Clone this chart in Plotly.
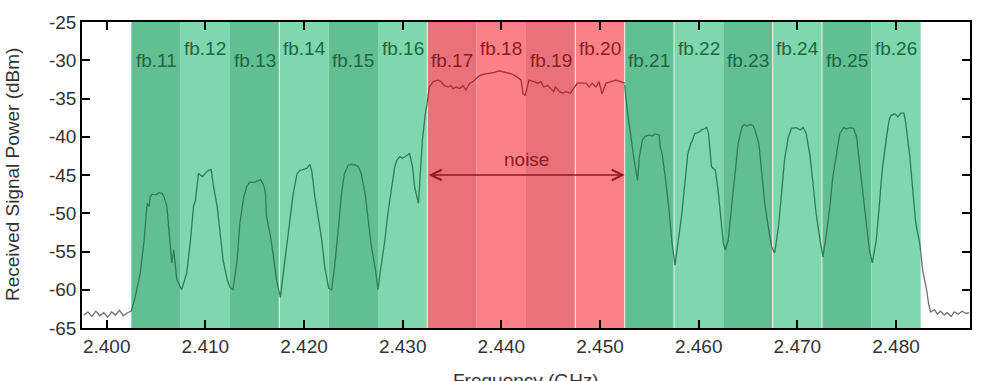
import plotly.graph_objects as go

# ---------------- data ----------------
# Frequency channels (fb.11 .. fb.26), 5 MHz wide bands
band_labels = ["fb.%d" % c for c in range(11, 27)]
band_centers = [2.405, 2.410, 2.415, 2.420, 2.425, 2.430, 2.435, 2.440,
                2.445, 2.450, 2.455, 2.460, 2.465, 2.470, 2.475, 2.480]
band_kind = ["g", "g", "g", "g", "g", "g", "r", "r", "r", "r",
             "g", "g", "g", "g", "g", "g"]
band_half = 0.0025

# spectrum trace, left noise floor (outside channels)
left_f = [2.3977, 2.3981, 2.3985, 2.3989, 2.3993, 2.3997, 2.4001, 2.4005,
          2.4009, 2.4013, 2.4017, 2.4021, 2.4025]
left_p = [-63.3, -62.9, -63.5, -62.8, -63.4, -63.0, -63.6, -62.9,
          -63.3, -62.7, -63.4, -63.0, -62.8]

# channels fb.11 - fb.16
g1_f = [2.4025, 2.4029, 2.4034, 2.4038, 2.4041, 2.4043, 2.4044, 2.4046, 2.4050,
        2.4053, 2.4056, 2.4058, 2.4061, 2.4063, 2.4065, 2.4066, 2.4068, 2.4071,
        2.4076, 2.4081, 2.4085, 2.4088, 2.4090, 2.4092, 2.4093, 2.4097, 2.4100,
        2.4103, 2.4106, 2.4108, 2.4112, 2.4115, 2.4118, 2.4122, 2.4125, 2.4128,
        2.4132, 2.4135, 2.4139, 2.4142, 2.4145, 2.4149, 2.4152, 2.4156, 2.4159,
        2.4161, 2.4162, 2.4166, 2.4169, 2.4172, 2.4176, 2.4179, 2.4182, 2.4186,
        2.4189, 2.4193, 2.4196, 2.4199, 2.4203, 2.4206, 2.4208, 2.4211, 2.4214,
        2.4218, 2.4221, 2.4225, 2.4228, 2.4231, 2.4235, 2.4238, 2.4241, 2.4245,
        2.4248, 2.4252, 2.4255, 2.4258, 2.4262, 2.4265, 2.4268, 2.4272, 2.4275,
        2.4278, 2.4282, 2.4285, 2.4289, 2.4292, 2.4294, 2.4297, 2.4300, 2.4304,
        2.4307, 2.4310, 2.4312, 2.4316, 2.4318, 2.4320, 2.4323, 2.4325]
g1_p = [-62.8, -60.9, -57.9, -53.5, -48.7, -49.1, -47.9, -47.5, -47.6,
        -47.3, -47.4, -47.8, -49.1, -51.7, -54.7, -56.5, -54.8, -58.6,
        -60.0, -57.9, -53.5, -49.1, -48.3, -45.7, -44.8, -45.2, -44.8,
        -44.4, -44.3, -46.3, -49.1, -52.6, -56.1, -58.6, -59.7, -60.0,
        -56.4, -51.3, -47.8, -46.5, -45.9, -46.0, -45.8, -45.6, -46.3,
        -47.4, -50.4, -53.0, -55.6, -58.6, -61.0, -57.9, -54.4, -51.0,
        -47.5, -44.8, -44.4, -44.3, -44.1, -43.6, -44.6, -47.8, -50.4,
        -53.5, -57.0, -59.8, -60.0, -57.0, -51.7, -47.5, -44.8, -43.7,
        -43.6, -43.7, -43.9, -44.8, -47.5, -51.0, -54.1, -57.0, -60.0,
        -57.0, -53.5, -50.0, -46.5, -43.9, -43.1, -42.6, -42.8, -42.5,
        -42.2, -43.9, -46.5, -48.7, -44.8, -40.4, -37.0, -35.5]

# channels fb.17 - fb.20 (noise)
r_f = [2.4325, 2.4327, 2.4331, 2.4336, 2.4339, 2.4342, 2.4346, 2.4349, 2.4351,
       2.4354, 2.4358, 2.4361, 2.4364, 2.4368, 2.4371, 2.4375, 2.4378, 2.4383,
       2.4388, 2.4393, 2.4398, 2.4401, 2.4406, 2.4411, 2.4416, 2.4420, 2.4422,
       2.4424, 2.4426, 2.4428, 2.4433, 2.4437, 2.4440, 2.4443, 2.4447, 2.4450,
       2.4453, 2.4455, 2.4459, 2.4462, 2.4465, 2.4470, 2.4474, 2.4477, 2.4482,
       2.4486, 2.4489, 2.4492, 2.4496, 2.4499, 2.4502, 2.4506, 2.4511, 2.4516,
       2.4521, 2.4525]
r_p = [-35.5, -33.5, -32.8, -32.6, -32.8, -33.3, -33.5, -33.3, -33.7,
       -33.5, -33.7, -33.3, -33.9, -33.0, -32.8, -32.4, -32.0, -31.8,
       -31.7, -31.6, -31.4, -31.5, -31.7, -31.8, -32.2, -32.6, -34.4,
       -34.6, -33.7, -32.6, -32.8, -33.0, -32.8, -33.5, -33.3, -33.7,
       -34.1, -33.5, -34.1, -34.3, -34.1, -34.3, -33.5, -33.0, -33.0,
       -33.0, -33.5, -33.0, -33.5, -32.8, -34.4, -33.0, -32.8, -32.6,
       -32.8, -33.0]

# channels fb.21 - fb.26
g2_f = [2.4525, 2.4528, 2.4531, 2.4534, 2.4538, 2.4540, 2.4543, 2.4546, 2.4550,
        2.4553, 2.4556, 2.4560, 2.4561, 2.4563, 2.4566, 2.4570, 2.4573, 2.4576,
        2.4579, 2.4583, 2.4586, 2.4589, 2.4592, 2.4593, 2.4596, 2.4600, 2.4603,
        2.4607, 2.4608, 2.4610, 2.4613, 2.4617, 2.4620, 2.4623, 2.4625, 2.4627,
        2.4630, 2.4633, 2.4637, 2.4640, 2.4644, 2.4646, 2.4649, 2.4652, 2.4655,
        2.4657, 2.4661, 2.4664, 2.4667, 2.4671, 2.4674, 2.4677, 2.4681, 2.4684,
        2.4687, 2.4691, 2.4694, 2.4699, 2.4703, 2.4706, 2.4709, 2.4713, 2.4716,
        2.4719, 2.4723, 2.4726, 2.4729, 2.4733, 2.4736, 2.4740, 2.4743, 2.4747,
        2.4750, 2.4753, 2.4757, 2.4760, 2.4763, 2.4767, 2.4770, 2.4773, 2.4776,
        2.4780, 2.4783, 2.4786, 2.4790, 2.4793, 2.4795, 2.4799, 2.4802, 2.4805,
        2.4808, 2.4810, 2.4814, 2.4817, 2.4820, 2.4824, 2.4825]
g2_p = [-33.2, -37.0, -39.6, -42.6, -45.7, -42.6, -40.4, -39.9, -39.8,
        -39.9, -39.6, -39.8, -41.3, -42.2, -45.2, -49.6, -53.9, -56.8,
        -53.9, -50.0, -46.1, -42.2, -40.9, -40.7, -39.6, -39.4, -39.1,
        -38.9, -38.7, -39.6, -43.9, -44.4, -47.4, -51.7, -53.9, -54.8,
        -53.5, -49.6, -44.8, -40.9, -38.7, -38.4, -38.6, -38.4, -38.5,
        -39.1, -40.9, -44.8, -48.7, -52.2, -54.4, -55.2, -51.7, -47.4,
        -43.0, -40.0, -38.9, -38.8, -39.1, -38.8, -39.6, -42.6, -46.1,
        -50.0, -53.5, -55.7, -53.1, -49.1, -45.2, -42.2, -39.6, -38.8,
        -39.0, -38.8, -38.9, -40.0, -43.5, -47.8, -51.7, -54.8, -56.5,
        -53.5, -49.1, -44.4, -40.4, -37.8, -37.2, -37.0, -37.4, -36.9,
        -36.9, -38.3, -42.6, -47.0, -51.3, -53.9, -55.0]

# right noise floor
right_f = [2.4825, 2.4827, 2.4831, 2.4833, 2.4835, 2.4839, 2.4842, 2.4845,
           2.4849, 2.4852, 2.4856, 2.4859, 2.4863, 2.4867, 2.4871, 2.4874]
right_p = [-55.0, -57.4, -60.0, -61.8, -62.9, -62.6, -63.2, -62.8,
           -63.3, -63.0, -63.5, -62.9, -63.2, -62.8, -63.1, -63.0]

x_ticks = [2.40, 2.41, 2.42, 2.43, 2.44, 2.45, 2.46, 2.47, 2.48]
x_tick_text = ["2.400", "2.410", "2.420", "2.430", "2.440", "2.450", "2.460", "2.470", "2.480"]
y_ticks = [-65, -60, -55, -50, -45, -40, -35, -30, -25]
y_tick_text = ["-65", "-60", "-55", "-50", "-45", "-40", "-35", "-30", "-25"]

noise_from, noise_to, noise_level = 2.4325, 2.4525, -45.0
white_seps = [2.4175, 2.4325, 2.4475, 2.4525, 2.4575, 2.4675, 2.4725]

# ---------------- styling ----------------
FONT = "Liberation Sans, Arial, sans-serif"
G_DARK, G_LIGHT = "#62bf92", "#7fd7ad"
R_DARK, R_LIGHT = "#e9727a", "#fc8187"
G_TXT, R_TXT = "#1b6843", "#8c1b24"

fig = go.Figure()

shapes = []
for i, (c, k) in enumerate(zip(band_centers, band_kind)):
    if k == "g":
        col = G_DARK if i % 2 == 0 else G_LIGHT
    else:
        col = R_DARK if i % 2 == 0 else R_LIGHT
    shapes.append(dict(type="rect", xref="x", yref="paper",
                       x0=c - band_half, x1=c + band_half, y0=0, y1=1,
                       fillcolor=col, line=dict(width=0), layer="below"))
for s in white_seps:
    shapes.append(dict(type="line", xref="x", yref="paper", x0=s, x1=s,
                       y0=0, y1=1, line=dict(color="rgba(255,250,240,0.7)", width=1.3),
                       layer="below"))

def seg(fx, py, color):
    fig.add_trace(go.Scatter(x=fx, y=py, mode="lines",
                             line=dict(color=color, width=1.3),
                             hoverinfo="skip", showlegend=False))

seg(left_f, left_p, "#707070")
seg(g1_f, g1_p, "#2f7c57")
seg(r_f, r_p, "#a5303b")
seg(g2_f, g2_p, "#2f7c57")
seg(right_f, right_p, "#707070")

annotations = []
for i, (lab, c, k) in enumerate(zip(band_labels, band_centers, band_kind)):
    yv = -30.0 if i % 2 == 0 else -28.5
    annotations.append(dict(x=c, y=yv, xref="x", yref="y", text=lab,
                            showarrow=False,
                            font=dict(family=FONT, size=19,
                                      color=G_TXT if k == "g" else R_TXT)))

annotations.append(dict(x=noise_to, y=noise_level, ax=noise_from, ay=noise_level,
                        xref="x", yref="y", axref="x", ayref="y", text="",
                        showarrow=True, arrowside="end+start", arrowhead=5,
                        arrowsize=1.3, arrowwidth=1.6, arrowcolor="#8c1b24"))
annotations.append(dict(x=(noise_from + noise_to) / 2, y=-43.0, xref="x", yref="y",
                        text="noise", showarrow=False,
                        font=dict(family=FONT, size=19, color=R_TXT)))

annotations.append(dict(x=0.5, y=0, xref="paper", yref="paper", yanchor="top",
                        yshift=-40, text="Frequency (GHz)", showarrow=False,
                        font=dict(family=FONT, size=19, color="#333333")))
annotations.append(dict(x=0, y=0.5, xref="paper", yref="paper", xanchor="center",
                        xshift=-70, textangle=-90, text="Received Signal Power (dBm)",
                        showarrow=False,
                        font=dict(family=FONT, size=19, color="#333333")))

fig.update_layout(
    width=984, height=381,
    margin=dict(l=82, r=12, t=22, b=53),
    paper_bgcolor="white", plot_bgcolor="white",
    shapes=shapes, annotations=annotations,
    font=dict(family=FONT, size=19, color="#333333"),
    xaxis=dict(range=[2.3975, 2.4875], tickvals=x_ticks, ticktext=x_tick_text,
               ticks="inside", ticklen=8, tickwidth=1.5, tickcolor="black",
               showline=True, linecolor="black", linewidth=1.5, mirror="ticks",
               showgrid=False, zeroline=False,
               tickfont=dict(family=FONT, size=19, color="#333333")),
    yaxis=dict(range=[-65, -25], tickvals=y_ticks, ticktext=y_tick_text,
               ticks="inside", ticklen=8, tickwidth=1.5, tickcolor="black",
               showline=True, linecolor="black", linewidth=1.5, mirror="ticks",
               showgrid=False, zeroline=False,
               tickfont=dict(family=FONT, size=19, color="#333333")),
)

fig.write_html("out.html", config={"displayModeBar": False},
               post_script="document.body.style.margin='0px';"
                           "document.body.style.overflow='hidden';")
